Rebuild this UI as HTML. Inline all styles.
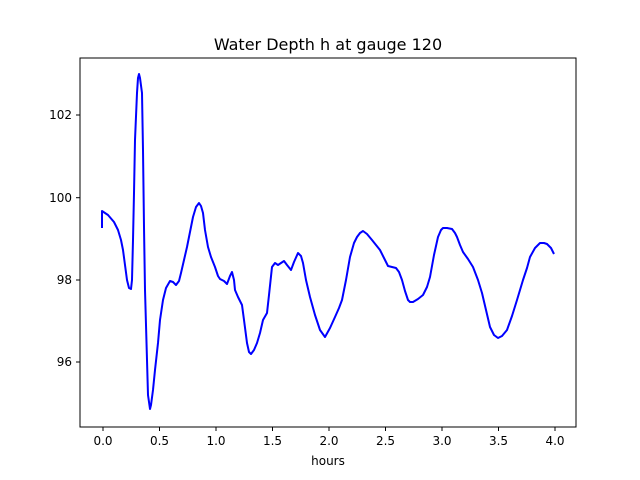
<!DOCTYPE html>
<html><head><meta charset="utf-8"><style>
html,body{margin:0;padding:0;background:#fff;}
svg{display:block;font-family:"DejaVu Sans","Liberation Sans",sans-serif;}
</style></head><body>
<svg width="640" height="480" viewBox="0 0 640 480" xmlns="http://www.w3.org/2000/svg">
<rect width="640" height="480" fill="#fff"/>
<text x="328" y="50" font-size="16" text-anchor="middle" fill="#000">Water Depth h at gauge 120</text>
<g stroke="#000" stroke-width="1">
<line x1="103" y1="427" x2="103" y2="431"/>
<line x1="159.5" y1="427" x2="159.5" y2="431"/>
<line x1="216" y1="427" x2="216" y2="431"/>
<line x1="272.5" y1="427" x2="272.5" y2="431"/>
<line x1="329" y1="427" x2="329" y2="431"/>
<line x1="385.5" y1="427" x2="385.5" y2="431"/>
<line x1="442" y1="427" x2="442" y2="431"/>
<line x1="498.5" y1="427" x2="498.5" y2="431"/>
<line x1="555" y1="427" x2="555" y2="431"/>
<line x1="76" y1="115" x2="80" y2="115"/>
<line x1="76" y1="197.7" x2="80" y2="197.7"/>
<line x1="76" y1="280" x2="80" y2="280"/>
<line x1="76" y1="362" x2="80" y2="362"/>
</g>
<g font-size="12" fill="#000" text-anchor="middle">
<text x="103" y="445">0.0</text><text x="159.5" y="445">0.5</text><text x="216" y="445">1.0</text>
<text x="272.5" y="445">1.5</text><text x="329" y="445">2.0</text><text x="385.5" y="445">2.5</text>
<text x="442" y="445">3.0</text><text x="498.5" y="445">3.5</text><text x="555" y="445">4.0</text>
<text x="328" y="465">hours</text>
</g>
<g font-size="12" fill="#000" text-anchor="end">
<text x="72" y="119">102</text><text x="72" y="202">100</text><text x="72" y="284">98</text><text x="72" y="366">96</text>
</g>
<polyline fill="none" stroke="#0000ff" stroke-width="2" stroke-linejoin="round" points="102,228 102,211 108,215 114,222 118,230 121,240 123,250 125,265 127,280 129,288 131,289 132,280 133,240 134,193 135,140 137,93 138,78 139,74 140,78 142,93 143,150 144,227 145,290 147,360 148,395 150,409 151,405 153,390 155,370 158,343 160,320 163,300 166,288 170,281 173,282 176,285 179,281 181,273 184,260 187,247 190,232 193,217 196,207 199,203 201,206 203,213 205,230 208,247 211,257 215,267 218,276 220,279 224,281 227,284 230,276 232,272 234,280 235,290 238,297 242,305 244,320 247,343 249,352 251,354 254,350 257,343 260,333 263,320 267,313 269,295 272,267 275,263 278,265 281,263 284,261 287,265 291,270 294,262 298,253 301,256 303,263 306,280 310,297 315,315 320,330 325,337 330,328 335,317 339,308 342,300 346,280 350,257 354,243 357,237 360,233 363,231 367,234 372,240 376,245 380,250 384,258 388,266 392,267 396,268 399,272 402,280 405,291 408,300 410,302 413,302 418,299 423,295 427,287 430,277 434,255 438,237 441,230 443,228 447,228 452,229 455,233 457,237 460,245 463,252 468,259 473,267 478,280 482,293 486,310 490,327 494,335 498,338 502,336 507,330 512,316 517,300 520,290 523,280 527,268 530,257 535,248 540,243 544,243 547,244 551,248 554,254"/>
<rect x="80" y="58" width="496" height="369" fill="none" stroke="#000" stroke-width="1"/>
</svg>
</body></html>
